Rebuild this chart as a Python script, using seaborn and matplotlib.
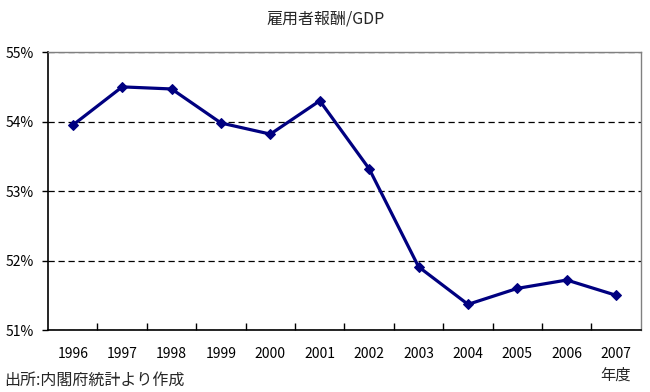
"""Compensation of employees / GDP line chart."""

import matplotlib

matplotlib.use("Agg")
import matplotlib.pyplot as plt
import pandas as pd
import seaborn as sns
from matplotlib.ticker import FixedLocator, FuncFormatter

years = ["1996", "1997", "1998", "1999", "2000", "2001",
         "2002", "2003", "2004", "2005", "2006", "2007"]
ratio = [53.95, 54.50, 54.47, 53.98, 53.82, 54.30,
         53.32, 51.91, 51.37, 51.60, 51.72, 51.50]
y_ticks = [51, 52, 53, 54, 55]

title = "雇用者報酬/GDP"
source_note = "出所:内閣府統計より作成"
x_unit = "年度"

sns.set_theme(style="white")
plt.rcParams["font.family"] = ["Noto Sans CJK JP", "DejaVu Sans"]

df = pd.DataFrame({"pos": range(len(years)), "year": years, "ratio": ratio})

fig = plt.figure(figsize=(6.5, 3.92), dpi=100)
ax = fig.add_axes([0.074, 0.158, 0.912, 0.709])

sns.lineplot(data=df, x="pos", y="ratio", ax=ax, color="#000080",
             linewidth=2.3, marker="D", markersize=5.5,
             markeredgecolor="#000080")

ax.set_xlim(-0.5, len(years) - 0.5)
ax.set_ylim(y_ticks[0], y_ticks[-1])
ax.set_yticks(y_ticks)
ax.yaxis.set_major_formatter(FuncFormatter(lambda v, _: f"{v:.0f}%"))
ax.set_xticks(df["pos"])
ax.set_xticklabels(years)
ax.xaxis.set_minor_locator(FixedLocator([p + 0.5 for p in df["pos"][:-1]]))
ax.tick_params(axis="x", which="major", length=0, pad=12, labelsize=10,
               colors="black")
ax.tick_params(axis="x", which="minor", direction="in", length=5,
               width=1, color="black", bottom=True)
ax.tick_params(axis="y", direction="out", length=4, width=1, color="black",
               left=True, labelsize=10, pad=6, colors="black")
ax.set_xlabel("")
ax.set_ylabel("")

ax.yaxis.grid(True, linestyle=(0, (5, 3)), color="black", linewidth=0.9)
ax.set_axisbelow(True)
for side in ("left", "bottom"):
    ax.spines[side].set_color("black")
    ax.spines[side].set_linewidth(1.2)
for side in ("top", "right"):
    ax.spines[side].set_color("#808080")
    ax.spines[side].set_linewidth(1.0)

fig.text(0.501, 0.952, title, ha="center", va="center", fontsize=11.5)
fig.text(0.924, 0.043, x_unit, ha="left", va="center", fontsize=11)
fig.text(0.006, 0.03, source_note, ha="left", va="center", fontsize=11.5)

fig.savefig("out.png", dpi=100)
